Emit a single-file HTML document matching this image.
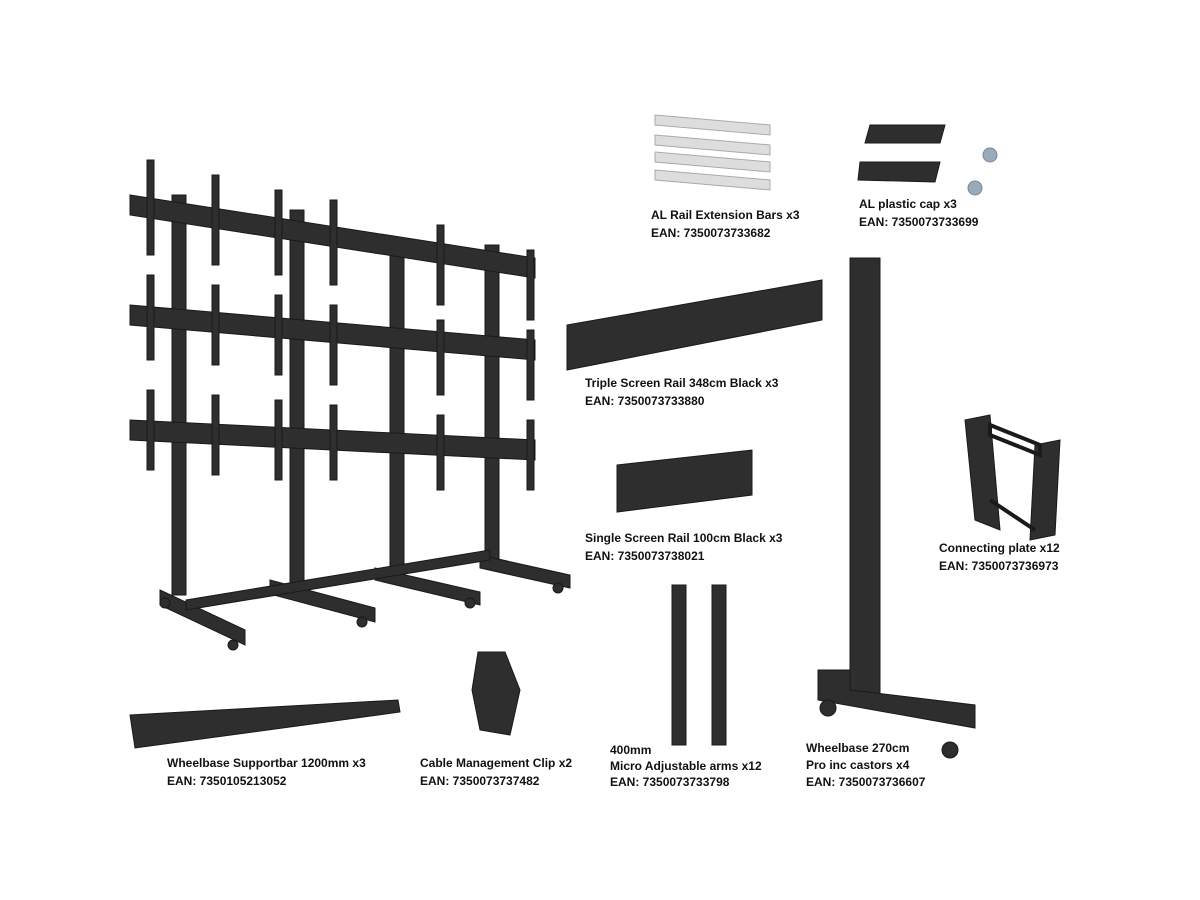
<!DOCTYPE html>
<html><head><style>
body{margin:0;background:#fff;}
.w{position:relative;width:1200px;height:900px;overflow:hidden;background:#fff;font-family:"Liberation Sans",Arial,sans-serif;}
.t{position:absolute;font-size:12px;font-weight:bold;color:#111;line-height:18px;white-space:nowrap;}
svg{position:absolute;left:0;top:0;}
</style></head><body><div class="w">
<svg width="1200" height="900">
<g fill="#2e2e2e" stroke="#1a1a1a" stroke-width="1">
<!-- big stand posts -->
<rect x="172" y="195" width="14" height="400"/>
<rect x="290" y="210" width="14" height="375"/>
<rect x="390" y="240" width="14" height="335"/>
<rect x="485" y="245" width="14" height="320"/>
<!-- rails -->
<polygon points="130,195 535,258 535,278 130,215"/>
<polygon points="130,305 535,340 535,360 130,325"/>
<polygon points="130,420 535,440 535,460 130,440"/>
<!-- feet -->
<polygon points="160,590 245,630 245,645 160,605"/>
<polygon points="270,580 375,608 375,622 270,594"/>
<polygon points="375,568 480,592 480,605 375,580"/>
<polygon points="480,555 570,575 570,588 480,568"/>
<polygon points="186,600 490,550 490,560 186,610"/>
<!-- brackets -->
<rect x="147" y="160" width="7" height="95"/><rect x="147" y="275" width="7" height="85"/><rect x="147" y="390" width="7" height="80"/>
<rect x="212" y="175" width="7" height="90"/><rect x="212" y="285" width="7" height="80"/><rect x="212" y="395" width="7" height="80"/>
<rect x="275" y="190" width="7" height="85"/><rect x="275" y="295" width="7" height="80"/><rect x="275" y="400" width="7" height="80"/>
<rect x="330" y="200" width="7" height="85"/><rect x="330" y="305" width="7" height="80"/><rect x="330" y="405" width="7" height="75"/>
<rect x="437" y="225" width="7" height="80"/><rect x="437" y="320" width="7" height="75"/><rect x="437" y="415" width="7" height="75"/>
<rect x="527" y="250" width="7" height="70"/><rect x="527" y="330" width="7" height="70"/><rect x="527" y="420" width="7" height="70"/>
<circle cx="233" cy="645" r="5"/><circle cx="362" cy="622" r="5"/><circle cx="470" cy="603" r="5"/><circle cx="558" cy="588" r="5"/><circle cx="165" cy="603" r="5"/>
<!-- triple rail -->
<polygon points="567,325 822,280 822,320 567,370"/>
<!-- single rail -->
<polygon points="617,465 752,450 752,495 617,512"/>
<!-- tall post -->
<rect x="850" y="258" width="30" height="440"/>
<polygon points="818,670 850,670 850,690 975,705 975,728 818,700"/>
<circle cx="828" cy="708" r="8"/><circle cx="950" cy="750" r="8"/>
<!-- connecting plate -->
<polygon points="965,420 990,415 1000,530 975,520"/>
<polygon points="1035,445 1060,440 1055,535 1030,540"/>
<polygon points="990,425 1040,445 1040,455 990,435" fill="none" stroke-width="4"/>
<polygon points="990,500 1035,530" fill="none" stroke-width="4"/>
<!-- supportbar -->
<polygon points="130,715 398,700 400,712 135,748"/>
<!-- clip -->
<polygon points="478,652 505,652 520,690 510,735 480,730 472,690"/>
<!-- arms -->
<rect x="672" y="585" width="14" height="160"/>
<rect x="712" y="585" width="14" height="160"/>
<!-- caps -->
<polygon points="870,125 945,125 940,143 865,143"/>
<polygon points="860,162 940,162 935,182 858,180"/>
</g>
<g fill="#ddd" stroke="#aaa">
<polygon points="655,115 770,125 770,135 655,125"/>
<polygon points="655,135 770,145 770,155 655,145"/>
<polygon points="655,152 770,162 770,172 655,162"/>
<polygon points="655,170 770,180 770,190 655,180"/>
</g>
<g fill="#9ab" stroke="#789"><circle cx="990" cy="155" r="7"/><circle cx="975" cy="188" r="7"/></g>
</svg>
<div class="t" style="left:651px;top:206px">AL Rail Extension Bars x3<br>EAN: 7350073733682</div>
<div class="t" style="left:859px;top:195px">AL plastic cap x3<br>EAN: 7350073733699</div>
<div class="t" style="left:585px;top:374px">Triple Screen Rail 348cm Black x3<br>EAN: 7350073733880</div>
<div class="t" style="left:585px;top:529px">Single Screen Rail 100cm Black x3<br>EAN: 7350073738021</div>
<div class="t" style="left:939px;top:539px">Connecting plate x12<br>EAN: 7350073736973</div>
<div class="t" style="left:167px;top:754px">Wheelbase Supportbar 1200mm x3<br>EAN: 7350105213052</div>
<div class="t" style="left:420px;top:754px">Cable Management Clip x2<br>EAN: 7350073737482</div>
<div class="t" style="left:610px;top:742px;line-height:16px">400mm<br>Micro Adjustable arms x12<br>EAN: 7350073733798</div>
<div class="t" style="left:806px;top:740px;line-height:17px">Wheelbase 270cm<br>Pro inc castors x4<br>EAN: 7350073736607</div>
</div></body></html>
